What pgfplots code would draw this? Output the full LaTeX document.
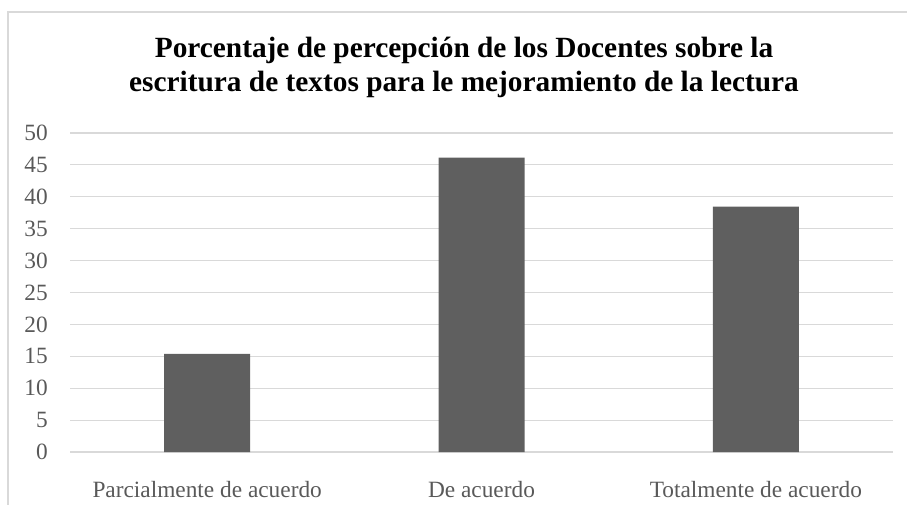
\documentclass[border=0pt]{standalone}
\usepackage{fontspec}
\setmainfont{Liberation Serif}
\usepackage{pgfplots}
\pgfplotsset{compat=1.18}
\definecolor{barfill}{HTML}{5F5F5F}
\definecolor{gridc}{HTML}{D9D9D9}
\definecolor{txt}{HTML}{595959}
\begin{document}
\begin{tikzpicture}
\useasboundingbox (0,0) rectangle (680.25pt,378pt);
\begin{scope}
\clip (0,0) rectangle (680.25pt,378pt);
\draw[gridc, line width=0.9pt] (6pt,-10pt) rectangle (700pt,369pt);
\end{scope}
% base of a two-line node is the baseline of the last line
\node[anchor=base, align=center, font=\fontsize{22}{25.5}\selectfont\bfseries] at (348pt,309pt)
  {Porcentaje de percepción de los Docentes sobre la\\escritura de textos para le mejoramiento de la lectura};
\begin{axis}[
    at={(52.5pt,39pt)}, anchor=south west,
    scale only axis,
    width=617.25pt, height=239.25pt,
    xmin=-0.5, xmax=2.5,
    ymin=0, ymax=50,
    ytick={0,5,...,50},
    xtick={0,1,2},
    xticklabels={Parcialmente de acuerdo, De acuerdo, Totalmente de acuerdo},
    major tick length=0pt,
    axis line style={draw=none},
    ymajorgrids=true,
    grid style={gridc, line width=0.8pt},
    tick label style={font=\fontsize{17.5}{20}\selectfont, text=txt},
    /pgf/number format/assume math mode=true,
    yticklabel style={anchor=east, inner sep=0pt, xshift=-16.5pt},
    xticklabel style={anchor=base, inner sep=0pt, yshift=-33.75pt},
]
\addplot[ybar, bar width=64.5pt, fill=barfill, draw=none] coordinates {
    (0,15.38) (1,46.15) (2,38.46)
};
\end{axis}
\end{tikzpicture}
\end{document}
